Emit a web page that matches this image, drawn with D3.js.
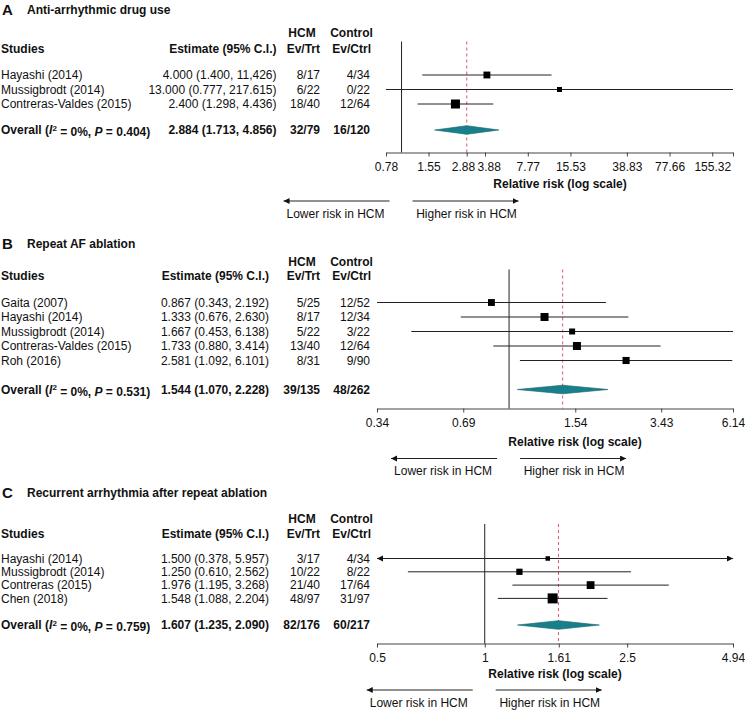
<!DOCTYPE html>
<html>
<head>
<meta charset="utf-8">
<script src="https://cdn.jsdelivr.net/npm/d3@7"></script>
<style>
body { margin: 0; background: #fff; }
text { font-family: "Liberation Sans", Arial, sans-serif; font-size: 12px; fill: #111; }
</style>
</head>
<body>
<div id="forest"></div>
<script>
// Panel A - anti-arrhythmic drug use
var studiesA = ["Hayashi (2014)", "Mussigbrodt (2014)", "Contreras-Valdes (2015)"];
var estA = [4.000, 13.000, 2.400];
var loA = [1.400, 0.777, 1.298];
var hiA = [11.426, 217.615, 4.436];
var ciTextA = ["4.000 (1.400, 11,426)", "13.000 (0.777, 217.615)", "2.400 (1.298, 4.436)"];
var hcmA = ["8/17", "6/22", "18/40"];
var ctrlA = ["4/34", "0/22", "12/64"];
var overallA = [2.884, 1.713, 4.856];
var overallTextA = ["2.884 (1.713, 4.856)", "32/79", "16/120", "0%", "0.404"];
var domainA = [0.777, 217.615];
var ticksA = [0.777, 1.55, 2.88, 3.88, 7.77, 15.53, 38.83, 77.66, 155.32, 217.615];
var tickLabelsA = ["0.78", "1.55", "2.88", "3.88", "7.77", "15.53", "38.83", "77.66", "155.32", ""];

// Panel B - repeat AF ablation
var studiesB = ["Gaita (2007)", "Hayashi (2014)", "Mussigbrodt (2014)", "Contreras-Valdes (2015)", "Roh (2016)"];
var estB = [0.867, 1.333, 1.667, 1.733, 2.581];
var loB = [0.343, 0.676, 0.453, 0.880, 1.092];
var hiB = [2.192, 2.630, 6.138, 3.414, 6.101];
var ciTextB = ["0.867 (0.343, 2.192)", "1.333 (0.676, 2.630)", "1.667 (0.453, 6.138)", "1.733 (0.880, 3.414)", "2.581 (1.092, 6.101)"];
var hcmB = ["5/25", "8/17", "5/22", "13/40", "8/31"];
var ctrlB = ["12/52", "12/34", "3/22", "12/64", "9/90"];
var overallB = [1.544, 1.070, 2.228];
var overallTextB = ["1.544 (1.070, 2.228)", "39/135", "48/262", "0%", "0.531"];
var domainB = [0.343, 6.138];
var ticksB = [0.343, 0.69, 1.71, 3.43, 6.138];
var tickLabelsB = ["0.34", "0.69", "1.54", "3.43", "6.14"];

// Panel C - recurrent arrhythmia after repeat ablation
var studiesC = ["Hayashi (2014)", "Mussigbrodt (2014)", "Contreras (2015)", "Chen (2018)"];
var estC = [1.500, 1.250, 1.976, 1.548];
var loC = [0.378, 0.610, 1.195, 1.088];
var hiC = [5.957, 2.562, 3.268, 2.204];
var ciTextC = ["1.500 (0.378, 5.957)", "1.250 (0.610, 2.562)", "1.976 (1.195, 3.268)", "1.548 (1.088, 2.204)"];
var hcmC = ["3/17", "10/22", "21/40", "48/97"];
var ctrlC = ["4/34", "8/22", "17/64", "31/97"];
var overallC = [1.607, 1.235, 2.090];
var overallTextC = ["1.607 (1.235, 2.090)", "82/176", "60/217", "0%", "0.759"];
var domainC = [0.5, 4.94];
var ticksC = [0.5, 1, 1.61, 2.5, 4.94];
var tickLabelsC = ["0.5", "1", "1.61", "2.5", "4.94"];

var svg = d3.select("#forest")
    .append("svg")
    .attr("width", 745)
    .attr("height", 710);

var defs = svg.append("defs");
defs.append("marker")
    .attr("id", "head")
    .attr("markerUnits", "userSpaceOnUse")
    .attr("markerWidth", 7)
    .attr("markerHeight", 7)
    .attr("refX", 6)
    .attr("refY", 3)
    .attr("orient", "auto-start-reverse")
    .append("path")
    .attr("d", "M0,0 L6,3 L0,6 Z")
    .attr("fill", "#111");

function drawPanel(p) {
    var g = svg.append("g");
    var x = d3.scaleLog().domain(p.domain).range(p.range);

    g.append("text").attr("x", 2).attr("y", p.titleY).attr("dy", "0.35em")
        .style("font-weight", "bold").style("font-size", "15px").text(p.letter);
    g.append("text").attr("x", 27).attr("y", p.titleY).attr("dy", "0.35em")
        .style("font-weight", "bold").text(p.title);

    // column headers
    var heads = [
        {t: "Studies", x: 1, y: p.head2Y, a: "start"},
        {t: "Estimate (95% C.I.)", x: p.estX, y: p.head2Y, a: "end"},
        {t: "HCM", x: 302, y: p.head1Y, a: "middle"},
        {t: "Ev/Trt", x: 320, y: p.head2Y, a: "end"},
        {t: "Control", x: 351.5, y: p.head1Y, a: "middle"},
        {t: "Ev/Ctrl", x: 371, y: p.head2Y, a: "end"}
    ];
    g.selectAll(".head").data(heads).enter().append("text")
        .attr("x", function (d) { return d.x; })
        .attr("y", function (d) { return d.y; })
        .attr("dy", "0.35em")
        .attr("text-anchor", function (d) { return d.a; })
        .style("font-weight", "bold")
        .text(function (d) { return d.t; });

    var rows = p.studies.map(function (s, i) {
        return {study: s, est: p.est[i], lo: p.lo[i], hi: p.hi[i], ci: p.ciText[i],
            hcm: p.hcm[i], ctrl: p.ctrl[i], y: p.rowY0 + i * p.rowStep};
    });

    var cols = [
        {k: "study", x: 1, a: "start"},
        {k: "ci", x: p.estX, a: "end"},
        {k: "hcm", x: 320, a: "end"},
        {k: "ctrl", x: 370, a: "end"}
    ];
    cols.forEach(function (c) {
        g.selectAll(".c" + c.k).data(rows).enter().append("text")
            .attr("x", c.x)
            .attr("y", function (d) { return d.y; })
            .attr("dy", "0.35em")
            .attr("text-anchor", c.a)
            .text(function (d) { return d[c.k]; });
    });

    // overall row
    var ov = g.append("text").attr("x", 1).attr("y", p.overallY).attr("dy", "0.35em")
        .style("font-weight", "bold");
    ov.append("tspan").text("Overall (");
    ov.append("tspan").style("font-style", "italic").text("I");
    ov.append("tspan").attr("dy", "-0.45em").style("font-size", "8px").text("2");
    ov.append("tspan").attr("dy", "0.45em").text(" = " + p.overallText[3] + ", ");
    ov.append("tspan").style("font-style", "italic").text("P");
    ov.append("tspan").text(" = " + p.overallText[4] + ")");
    [[p.estX, 0], [320, 1], [370, 2]].forEach(function (c) {
        g.append("text").attr("x", c[0]).attr("y", p.overallY).attr("dy", "0.35em")
            .attr("text-anchor", "end").style("font-weight", "bold")
            .text(p.overallText[c[1]]);
    });

    // reference lines
    g.append("line")
        .attr("x1", x(1)).attr("x2", x(1))
        .attr("y1", p.plotTop).attr("y2", p.axisY)
        .attr("stroke", "#222").attr("stroke-width", 1);
    g.append("line")
        .attr("x1", x(p.overall[0])).attr("x2", x(p.overall[0]))
        .attr("y1", p.plotTop).attr("y2", p.axisY)
        .attr("stroke", "#e0556a").attr("stroke-width", 1)
        .attr("stroke-dasharray", "3,3");

    // confidence intervals
    var d0 = p.domain[0], d1 = p.domain[1];
    g.selectAll(".ci").data(rows).enter().append("line")
        .attr("x1", function (d) { return x(Math.max(d.lo, d0)); })
        .attr("x2", function (d) { return x(Math.min(d.hi, d1)); })
        .attr("y1", function (d) { return d.y; })
        .attr("y2", function (d) { return d.y; })
        .attr("stroke", "#222").attr("stroke-width", 1)
        .attr("marker-start", function (d) { return d.lo < d0 ? "url(#head)" : null; })
        .attr("marker-end", function (d) { return d.hi > d1 ? "url(#head)" : null; });

    // square size from inverse standard error
    var w = rows.map(function (d) { return 3.92 / Math.log(d.hi / d.lo); });
    var size = d3.scaleLinear().domain(d3.extent(w)).range(p.sizeRange);
    g.selectAll(".sq").data(rows).enter().append("rect")
        .attr("x", function (d, i) { return x(d.est) - size(w[i]) / 2; })
        .attr("y", function (d, i) { return d.y - size(w[i]) / 2; })
        .attr("width", function (d, i) { return size(w[i]); })
        .attr("height", function (d, i) { return size(w[i]); })
        .attr("fill", "#000");

    // pooled diamond
    var oy = p.overallY, hh = 4.3;
    g.append("path")
        .attr("d", "M" + x(p.overall[1]) + "," + oy +
            "L" + x(p.overall[0]) + "," + (oy - hh) +
            "L" + x(p.overall[2]) + "," + oy +
            "L" + x(p.overall[0]) + "," + (oy + hh) + "Z")
        .attr("fill", "#18808b")
        .attr("stroke", "#0f5c64")
        .attr("stroke-width", 0.6);

    // axis
    var axis = g.append("g")
        .attr("transform", "translate(0," + p.axisY + ")")
        .call(d3.axisBottom(x)
            .tickValues(p.ticks)
            .tickFormat(function (d, i) { return p.tickLabels[i]; })
            .tickSize(4)
            .tickSizeOuter(0)
            .tickPadding(6));
    axis.select(".domain").attr("stroke", "#444");
    axis.selectAll(".tick line").attr("stroke", "#444");
    axis.selectAll("text").style("font-size", "12px")
        .style("font-family", "'Liberation Sans', Arial, sans-serif").attr("fill", "#111");

    // push apart tick labels that collide
    var labs = axis.selectAll(".tick text").nodes().filter(function (n) { return n.textContent; });
    for (var i = 1; i < labs.length; i++) {
        var a = labs[i - 1].getBBox(), b = labs[i].getBBox();
        var ta = d3.select(labs[i - 1].parentNode).attr("transform");
        var tb = d3.select(labs[i].parentNode).attr("transform");
        var xa = +ta.match(/translate\(([-\d.]+)/)[1], xb = +tb.match(/translate\(([-\d.]+)/)[1];
        var overlap = (xa + a.width / 2 + 2) - (xb - b.width / 2);
        if (overlap > 0) {
            d3.select(labs[i - 1]).attr("x", -overlap / 2);
            d3.select(labs[i]).attr("x", overlap / 2);
        }
    }

    g.append("text").attr("x", p.xlabX).attr("y", p.xlabY).attr("dy", "0.35em")
        .attr("text-anchor", "middle").style("font-weight", "bold")
        .text("Relative risk (log scale)");

    // direction arrows
    var nx = x(1);
    g.append("line").attr("x1", nx - 12).attr("x2", nx - 118)
        .attr("y1", p.arrowY).attr("y2", p.arrowY)
        .attr("stroke", "#222").attr("marker-end", "url(#head)");
    g.append("line").attr("x1", nx + 11).attr("x2", nx + 117)
        .attr("y1", p.arrowY).attr("y2", p.arrowY)
        .attr("stroke", "#222").attr("marker-end", "url(#head)");
    g.append("text").attr("x", nx - 66).attr("y", p.arrowY + 12.5).attr("dy", "0.35em")
        .attr("text-anchor", "middle").text("Lower risk in HCM");
    g.append("text").attr("x", nx + 65).attr("y", p.arrowY + 12.5).attr("dy", "0.35em")
        .attr("text-anchor", "middle").text("Higher risk in HCM");
}

drawPanel({
    letter: "A", title: "Anti-arrhythmic drug use",
    studies: studiesA, est: estA, lo: loA, hi: hiA, ciText: ciTextA, hcm: hcmA, ctrl: ctrlA,
    overall: overallA, overallText: overallTextA,
    domain: domainA, ticks: ticksA, tickLabels: tickLabelsA,
    range: [386, 733], estX: 276.5, sizeRange: [5, 9],
    titleY: 10, head1Y: 33, head2Y: 49, rowY0: 75, rowStep: 14.5, overallY: 130,
    plotTop: 41.5, axisY: 152.5, xlabX: 560, xlabY: 184, arrowY: 201
});

drawPanel({
    letter: "B", title: "Repeat AF ablation",
    studies: studiesB, est: estB, lo: loB, hi: hiB, ciText: ciTextB, hcm: hcmB, ctrl: ctrlB,
    overall: overallB, overallText: overallTextB,
    domain: domainB, ticks: ticksB, tickLabels: tickLabelsB,
    range: [377, 733], estX: 269, sizeRange: [6, 8],
    titleY: 243.5, head1Y: 262, head2Y: 276, rowY0: 302.5, rowStep: 14.5, overallY: 389.5,
    plotTop: 269.5, axisY: 408.5, xlabX: 575, xlabY: 441.5, arrowY: 458.5
});

drawPanel({
    letter: "C", title: "Recurrent arrhythmia after repeat ablation",
    studies: studiesC, est: estC, lo: loC, hi: hiC, ciText: ciTextC, hcm: hcmC, ctrl: ctrlC,
    overall: overallC, overallText: overallTextC,
    domain: domainC, ticks: ticksC, tickLabels: tickLabelsC,
    range: [377, 733], estX: 269, sizeRange: [4.5, 10],
    titleY: 492.5, head1Y: 519, head2Y: 533.5, rowY0: 558.5, rowStep: 13.3, overallY: 625,
    plotTop: 524, axisY: 643.5, xlabX: 555, xlabY: 674, arrowY: 690
});
</script>
</body>
</html>
